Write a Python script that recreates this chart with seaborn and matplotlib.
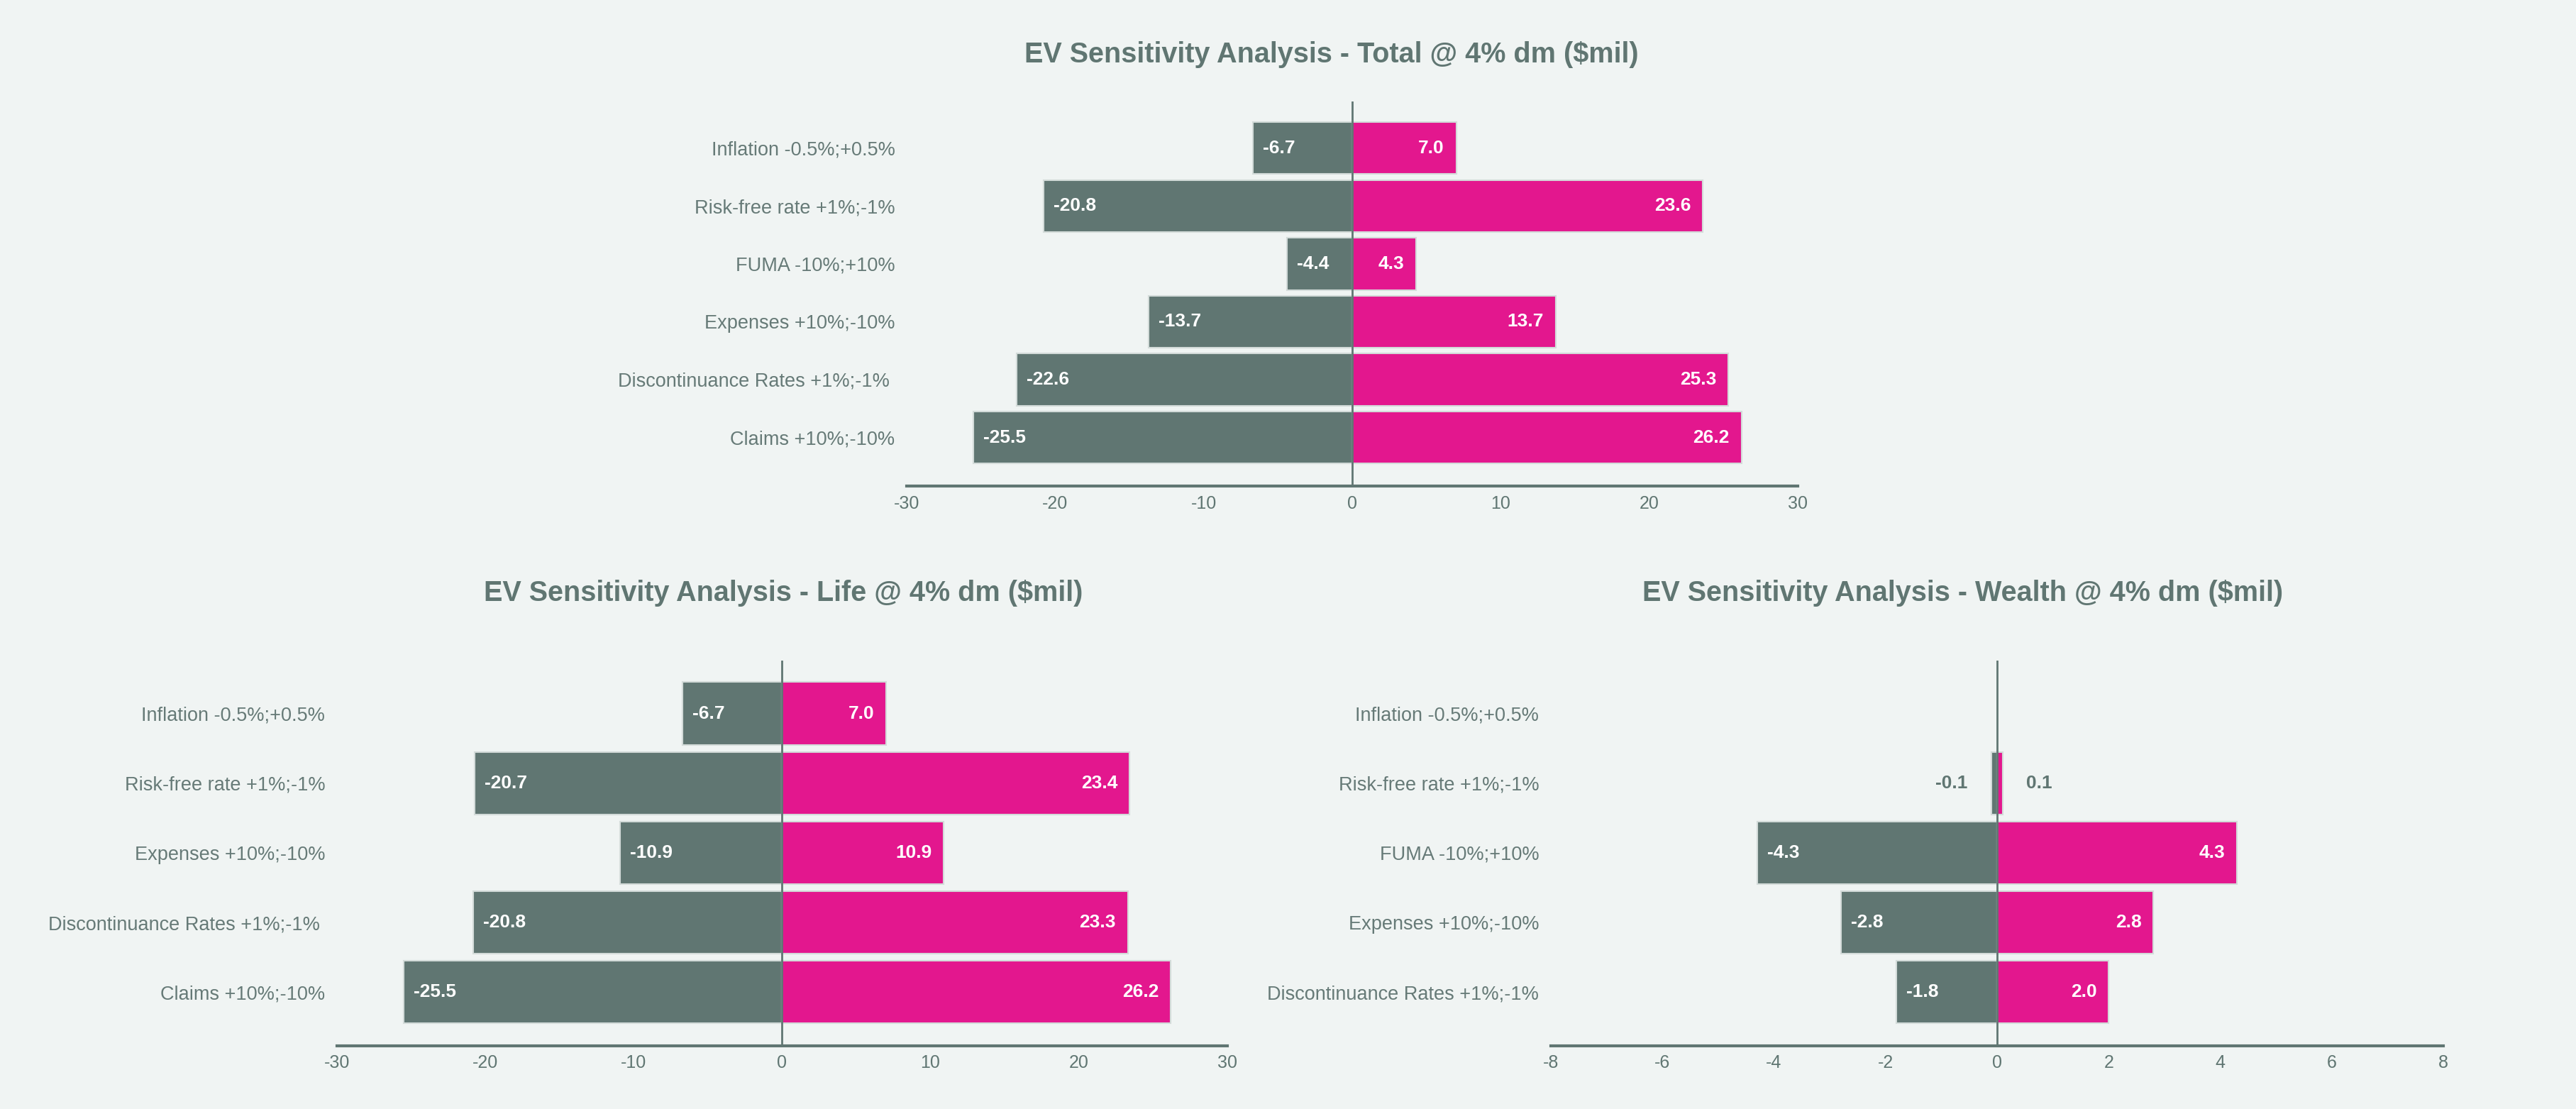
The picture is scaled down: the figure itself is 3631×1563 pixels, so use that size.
import pandas as pd
import numpy as np
import matplotlib
matplotlib.use('Agg')
import matplotlib.pyplot as plt
import seaborn as sns


#############################################################
#                         DADOS                             #
#############################################################

cats_total = ['Inflation -0.5%;+0.5%', 'Risk-free rate +1%;-1%', 'FUMA -10%;+10%',
              'Expenses +10%;-10%', 'Discontinuance Rates +1%;-1% ', 'Claims +10%;-10%']
neg_total = [-6.7, -20.8, -4.4, -13.7, -22.6, -25.5]
pos_total = [7.0, 23.6, 4.3, 13.7, 25.3, 26.2]

cats_life = ['Inflation -0.5%;+0.5%', 'Risk-free rate +1%;-1%', 'Expenses +10%;-10%',
             'Discontinuance Rates +1%;-1% ', 'Claims +10%;-10%']
neg_life = [-6.7, -20.7, -10.9, -20.8, -25.5]
pos_life = [7.0, 23.4, 10.9, 23.3, 26.2]

cats_wealth = ['Inflation -0.5%;+0.5%', 'Risk-free rate +1%;-1%', 'FUMA -10%;+10%',
               'Expenses +10%;-10%', 'Discontinuance Rates +1%;-1%']
neg_wealth = [np.nan, -0.1, -4.3, -2.8, -1.8]
pos_wealth = [np.nan, 0.1, 4.3, 2.8, 2.0]

ticks_total = [-30, -20, -10, 0, 10, 20, 30]
ticks_life = [-30, -20, -10, 0, 10, 20, 30]
ticks_wealth = [-8, -6, -4, -2, 0, 2, 4, 6, 8]

titulos = ['EV Sensitivity Analysis - Total @ 4% dm ($mil)',
           'EV Sensitivity Analysis - Life @ 4% dm ($mil)',
           'EV Sensitivity Analysis - Wealth @ 4% dm ($mil)']

# Cores
BG = '#F0F4F3'
CINZA = '#607672'
ROSA = '#E3178E'
BORDA = '#D3DBD9'

sns.set_style('white')
plt.rcParams['font.family'] = ['Liberation Sans', 'DejaVu Sans']


#############################################################
#                 GRAFICO TORNADO (BARRAS)                  #
#############################################################

def plot_tornado(ax, cats, neg, pos, ticks, ylim):
    """
    Desenha um gráfico tornado: barras negativas em cinza e positivas em rosa,
    com os valores escritos dentro (ou fora, se a barra for muito pequena).
    """
    df = pd.DataFrame({'cat': cats, 'neg': neg, 'pos': pos})

    sns.barplot(data=df, x='neg', y='cat', order=cats, color=CINZA, width=0.9,
                errorbar=None, saturation=1, edgecolor=BORDA, linewidth=1.5, ax=ax)
    sns.barplot(data=df, x='pos', y='cat', order=cats, color=ROSA, width=0.9,
                errorbar=None, saturation=1, edgecolor=BORDA, linewidth=1.5, ax=ax)

    ax.set_facecolor(BG)
    ax.set_xlim(ticks[0], ticks[-1])
    ax.set_ylim(*ylim)
    ax.set_xticks(ticks)
    ax.set_xticklabels([str(t) for t in ticks])
    ax.set_xlabel('')
    ax.set_ylabel('')

    # Linha do zero
    ax.axvline(0, color=CINZA, lw=2, zorder=5)

    # Eixos
    for lado in ['top', 'right', 'left']:
        ax.spines[lado].set_visible(False)
    ax.spines['bottom'].set_color(CINZA)
    ax.spines['bottom'].set_linewidth(3)
    ax.tick_params(axis='x', length=0, pad=9, labelsize=18, labelcolor=CINZA)
    ax.tick_params(axis='y', length=0, pad=12, labelsize=19.5, labelcolor='#667a77')

    # Valores nas barras
    limite = 0.04 * ticks[-1]
    for i, (n, p) in enumerate(zip(neg, pos)):
        if not np.isnan(n):
            if abs(n) < limite:
                ax.annotate(f'{n:.1f}', (n, i), xytext=(-24, 0), textcoords='offset points',
                            ha='right', va='center', color=CINZA, fontsize=19, fontweight='bold')
            else:
                ax.annotate(f'{n:.1f}', (n, i), xytext=(10, 0), textcoords='offset points',
                            ha='left', va='center', color='white', fontsize=19, fontweight='bold')
        if not np.isnan(p):
            if abs(p) < limite:
                ax.annotate(f'{p:.1f}', (p, i), xytext=(24, 0), textcoords='offset points',
                            ha='left', va='center', color=CINZA, fontsize=19, fontweight='bold')
            else:
                ax.annotate(f'{p:.1f}', (p, i), xytext=(-12, 0), textcoords='offset points',
                            ha='right', va='center', color='white', fontsize=19, fontweight='bold')


#############################################################
#                       FIGURA                              #
#############################################################

fig = plt.figure(figsize=(36.31, 15.63), dpi=100, facecolor=BG)

ax_total = fig.add_axes([0.3520, 0.5617, 0.3459, 0.3465])
ax_life = fig.add_axes([0.1308, 0.0571, 0.3456, 0.3473])
ax_wealth = fig.add_axes([0.6020, 0.0571, 0.3465, 0.3473])

plot_tornado(ax_total, cats_total, neg_total, pos_total, ticks_total, (5.84, -0.80))
plot_tornado(ax_life, cats_life, neg_life, pos_life, ticks_life, (4.77, -0.76))
plot_tornado(ax_wealth, cats_wealth, neg_wealth, pos_wealth, ticks_wealth, (4.77, -0.76))

# Titulos
estilo_titulo = dict(ha='center', va='center', color=CINZA, fontsize=28.5, fontweight='bold')
fig.text(0.517, 0.951, titulos[0], **estilo_titulo)
fig.text(0.304, 0.465, titulos[1], **estilo_titulo)
fig.text(0.762, 0.465, titulos[2], **estilo_titulo)

fig.savefig('out.png', dpi=100, facecolor=BG)
